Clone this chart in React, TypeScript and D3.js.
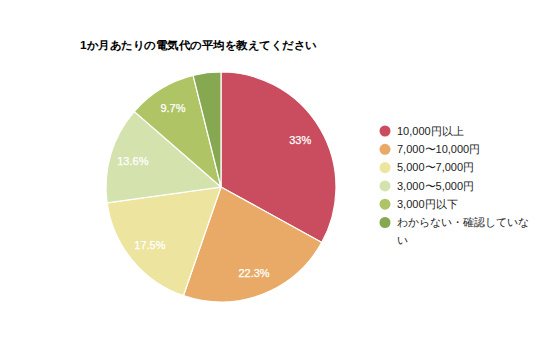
import React from "react";
import * as d3 from "d3";

const title = "1か月あたりの電気代の平均を教えてください";
const categories = [
  "10,000円以上",
  "7,000〜10,000円",
  "5,000〜7,000円",
  "3,000〜5,000円",
  "3,000円以下",
  "わからない・確認していない",
];
const values = [33, 22.3, 17.5, 13.6, 9.7, 3.9];
const colors = ["#c94d5e", "#e8aa66", "#ede59f", "#d4e2ad", "#aec465", "#85a851"];

const legendLines = [
  ["10,000円以上"],
  ["7,000〜10,000円"],
  ["5,000〜7,000円"],
  ["3,000〜5,000円"],
  ["3,000円以下"],
  ["わからない・確認していな", "い"],
];

export default function App() {
  const W = 536, H = 357;
  const cx = 221, cy = 187, r = 115;
  const pie = d3.pie<number>().sort(null).value((d) => d);
  const arcs = pie(values);
  const arc = d3.arc<d3.PieArcDatum<number>>().innerRadius(0).outerRadius(r);
  const labelArc = d3.arc<d3.PieArcDatum<number>>().innerRadius(r * 0.8).outerRadius(r * 0.8);
  const font = "'Liberation Sans', Arial, sans-serif";
  const legendY = d3.scaleLinear().domain([0, 1]).range([131, 149.3]);
  return (
    <svg width={W} height={H} style={{ position: "absolute", left: 0, top: 0, background: "#fff" }} fontFamily={font}>
      <text x={80} y={49} fontSize={11.4} fontWeight="bold" fill="#000" textLength={237} lengthAdjust="spacingAndGlyphs">{title}</text>
      <g transform={`translate(${cx},${cy})`}>
        {arcs.map((a, i) => (
          <path key={i} d={arc(a) || ""} fill={colors[i]} stroke="#fff" strokeWidth={1.2} />
        ))}
        {arcs.map((a, i) => {
          if (values[i] < 5) return null;
          const [x, y] = labelArc.centroid(a);
          return (
            <text key={"l" + i} x={x} y={y} dy="0.35em" textAnchor="middle" fontSize={11} fill="#fff" stroke="#fff" strokeWidth={0.25}>
              {values[i] + "%"}
            </text>
          );
        })}
      </g>
      <g>
        {categories.map((c, i) => (
          <g key={c}>
            <circle cx={385} cy={legendY(i)} r={5.5} fill={colors[i]} />
            {legendLines[i].map((t, j) => (
              <text key={j} x={397} y={legendY(i) + j * 18} dy="0.35em" fontSize={11} fill="#222">{t}</text>
            ))}
          </g>
        ))}
      </g>
    </svg>
  );
}
